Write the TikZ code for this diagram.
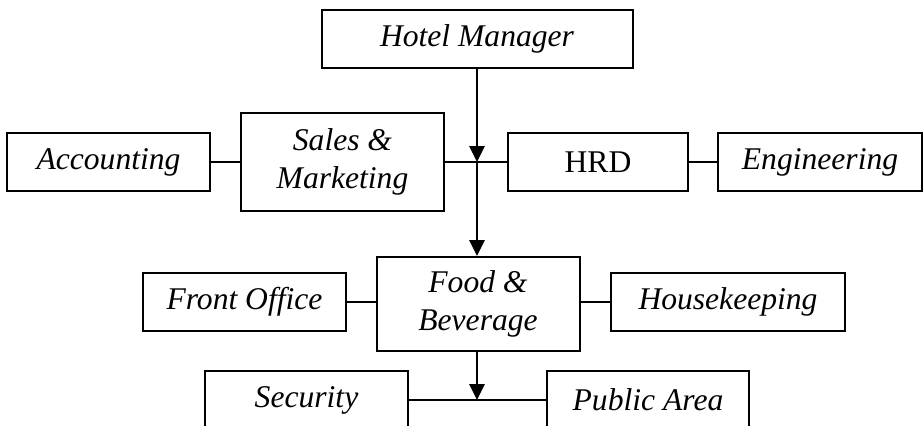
\documentclass[tikz,border=0pt]{standalone}
\usepackage{fontspec}
\setmainfont{Liberation Serif}
\usetikzlibrary{arrows.meta}
\begin{document}
\begin{tikzpicture}[x=0.75pt,y=-0.75pt,
  unit/.style={draw, line width=1.5pt, inner sep=0pt,
    font=\fontsize{23.7}{29}\selectfont\itshape, align=center,
    minimum width=152.25pt, minimum height=43.5pt},
  plain/.style={unit, font=\fontsize{23.7}{29}\selectfont\upshape},
  link/.style={line width=1.5pt},
  down/.style={link, -{Triangle[length=12pt,width=11.5pt]}}]
\useasboundingbox (0,0) rectangle (924,425);
\clip (0,0) rectangle (924,425);

% top level
\node[unit, minimum width=233.25pt] (hm) at (477,39) {Hotel Manager};

% second row
\node[unit] (acc) at (108.5,162) {Accounting};
\node[unit, minimum height=73.5pt] (sales) at (342.5,162) {Sales \&\\Marketing};
\node[plain, minimum width=135pt] (hrd) at (598,162) {HRD};
\node[unit, minimum width=153pt] (eng) at (820,162) {Engineering};

% third row
\node[unit] (fo) at (244.5,302) {Front Office};
\node[unit, minimum height=70.5pt] (fb) at (478,304) {Food \&\\Beverage};
\node[unit, minimum width=175.5pt] (hk) at (728,302) {Housekeeping};

% bottom row
\node[unit] (sec) at (306.5,400) {Security};
\node[unit, minimum width=151.5pt] (pa) at (648,400) {Public Area};

% junctions on the vertical spine
\coordinate (j1) at (hm.south |- sales.east);
\coordinate (j2) at (j1 |- sec.east);

% connectors
\draw[link] (acc) -- (sales);
\draw[link] (sales.east) -- (hrd.west);
\draw[link] (hrd) -- (eng);
\draw[down] (hm.south) -- (j1);
\draw[down] (j1) -- (j1 |- fb.north);
\draw[link] (fo.east) -- (fo.east -| fb.west);
\draw[link] (hk.west) -- (hk.west -| fb.east);
\draw[down] (j1 |- fb.south) -- (j2);
\draw[link] (sec.east) -- (pa.west);
\end{tikzpicture}
\end{document}
